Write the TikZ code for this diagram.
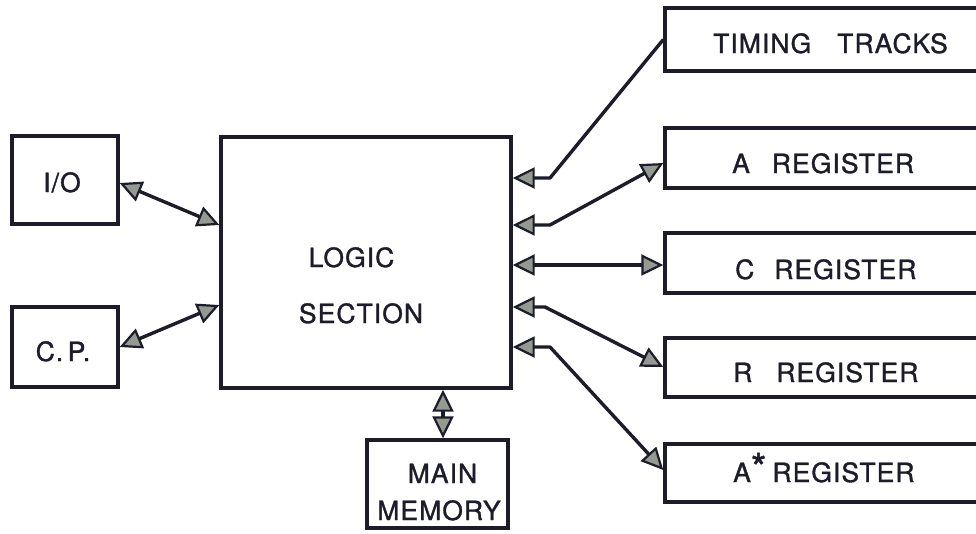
\documentclass[tikz,border=0pt]{standalone}
\usepackage{fontspec}
\setmainfont{TeX Gyre Heros}[LetterSpace=4,FakeBold=1.3]
\usetikzlibrary{arrows.meta,calc}
\definecolor{ink}{HTML}{1C1C2A}
\definecolor{tipfill}{HTML}{959A90}
\begin{document}
\begin{tikzpicture}[x=1pt,y=-1pt,
  box/.style={draw=ink, line width=3.4pt, rectangle, inner sep=0pt},
  lbl/.style={text=ink, inner sep=0pt, font=\fontsize{26.5}{30}\selectfont},
  tipa/.tip={Triangle[length=22pt,width=21pt,fill=tipfill,line width=2.2pt]},
  link/.style={draw=ink, line width=3.4pt, line join=round},
  one/.style={link, tipa-},
  two/.style={link, tipa-tipa}]
\useasboundingbox (0,0) rectangle (976,533);
\clip (0,0) rectangle (976,533);
% boxes
\node[box, minimum width=106pt, minimum height=88pt] (io) at (65,180) {};
\node[box, minimum width=106pt, minimum height=80pt] (cp) at (65,347) {};
\node[box, minimum width=290pt, minimum height=251pt] (logic) at (366,262.5) {};
\node[box, minimum width=141pt, minimum height=88pt] (mem) at (437.5,484) {};
\node[box, minimum width=330pt, minimum height=63pt] (tt) at (830,39.5) {};
\node[box, minimum width=330pt, minimum height=60pt] (areg) at (830,158) {};
\node[box, minimum width=330pt, minimum height=60pt] (creg) at (830,263) {};
\node[box, minimum width=330pt, minimum height=59pt] (rreg) at (830,367.5) {};
\node[box, minimum width=330pt, minimum height=58pt] (asreg) at (830,473) {};
% labels
\node[lbl, anchor=base] (iol) at (62,192) {I/O};
\node[lbl, anchor=base] (cpl) at (63,361) {C.\,P.};
\node[lbl, anchor=base] (logl1) at (351.5,267) {LOGIC};
\node[lbl, anchor=base] (logl2) at (361,323) {SECTION};
\node[lbl, anchor=base] (meml1) at (442.5,483) {MAIN};
\node[lbl, anchor=base] (meml2) at (439,520) {MEMORY};
\node[lbl, anchor=base west] (ttl) at (713,53) {TIMING\hspace{26pt}TRACKS};
\node[lbl, anchor=base west] (areql) at (732,173) {A\hspace{22pt}REGISTER};
\node[lbl, anchor=base west] (creql) at (735,279) {C\hspace{20pt}REGISTER};
\node[lbl, anchor=base west] (rreql) at (733,382) {R\hspace{24pt}REGISTER};
\node[lbl, anchor=base west] (asreql) at (733,482) {A\raisebox{0pt}{\fontsize{40}{40}\selectfont *}\hspace{6pt}REGISTER};
% bend points
\coordinate (b1) at (550,178);
\coordinate (b2) at (550,225);
\coordinate (b4) at (545,307);
\coordinate (b5) at (550,347);
\coordinate (mx) at (443,0);
% connectors
\draw[one] (logic.east |- b1) -- (b1) -- (tt.west);
\draw[two] (logic.east |- b2) -- (b2) -- (areg.west |- 0,163);
\draw[two] (logic.east |- 0,265) -- (creg.west |- 0,265);
\draw[two] (logic.east |- b4) -- (b4) -- (rreg.west |- 0,367);
\draw[two] (logic.east |- b5) -- (b5) -- (asreg.west |- 0,470);
\draw[two] (io.east |- 0,183) -- (logic.west |- 0,225);
\draw[two] (cp.east |- 0,347) -- (logic.west |- 0,305);
\draw[two] (logic.south -| mx) -- (mem.north -| mx);
\end{tikzpicture}
\end{document}
